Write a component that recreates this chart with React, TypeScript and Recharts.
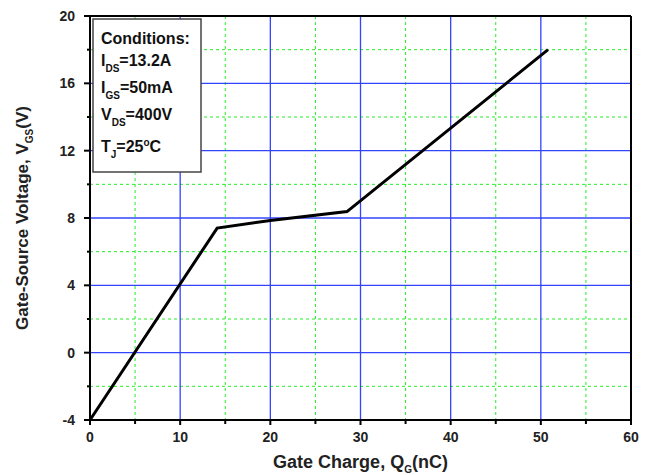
import React from 'react';
import { ComposedChart, Line, XAxis, YAxis, CartesianGrid, ReferenceLine, Customized } from 'recharts';

const charge = [0, 14.1, 20, 28.5, 50.8];
const voltage = [-4, 7.4, 7.85, 8.38, 18];
const xTicks = [0, 5, 10, 15, 20, 25, 30, 35, 40, 45, 50, 55, 60];
const yTicks = [-4, -2, 0, 2, 4, 6, 8, 10, 12, 14, 16, 18, 20];
const xMajorGrid = [10, 20, 30, 40, 50];
const xMinorGrid = [5, 15, 25, 35, 45, 55];
const yMajorGrid = [0, 4, 8, 12, 16];
const yMinorGrid = [-2, 2, 6, 10, 14, 18];
const conditions = [
  { main: 'I', sub: 'DS', rest: '=13.2A' },
  { main: 'I', sub: 'GS', rest: '=50mA' },
  { main: 'V', sub: 'DS', rest: '=400V' },
];

const data = charge.map((q, i) => ({ q, v: voltage[i] }));

const tickFont = "'Liberation Sans Narrow', 'Liberation Sans', Arial, sans-serif";
const titleFont = "'Liberation Sans', Arial, sans-serif";

const XTick = (props: any) => {
  const { x, y, payload } = props;
  const v = payload.value;
  const major = v % 10 === 0;
  return (
    <g>
      <line x1={x} x2={x} y1={y} y2={y + (major ? 5 : 4)} stroke="#000" strokeWidth={2} />
      {major && (
        <text x={x} y={y + 22} textAnchor="middle" fontFamily={tickFont} fontWeight="bold" fontSize={14} fill="#222">
          {v}
        </text>
      )}
    </g>
  );
};

const YTick = (props: any) => {
  const { x, y, payload } = props;
  const v = payload.value;
  const major = (v + 4) % 4 === 0;
  return (
    <g>
      <line x1={x} x2={x - (major ? 6 : 3)} y1={y} y2={y} stroke="#000" strokeWidth={2} />
      {major && (
        <text x={x - 15} y={y + 5} textAnchor="end" fontFamily={tickFont} fontWeight="bold" fontSize={14} fill="#222">
          {v}
        </text>
      )}
    </g>
  );
};

const XTitle = (props: any) => {
  const vb = props.viewBox;
  return (
    <text x={vb.x + vb.width / 2} y={vb.y + 48} textAnchor="middle" fontFamily={titleFont} fontWeight="bold" fontSize={18} fill="#222">
      Gate Charge, Q<tspan fontSize={10} dy={5}>G</tspan>
      <tspan dy={-5}>(nC)</tspan>
    </text>
  );
};

const YTitle = (props: any) => {
  const vb = props.viewBox;
  const cx = 28;
  const cy = vb.y + vb.height / 2;
  return (
    <text x={cx} y={cy} transform={`rotate(-90, ${cx}, ${cy})`} textAnchor="middle" fontFamily={titleFont} fontWeight="bold" fontSize={17} fill="#222">
      Gate-Source Voltage, V<tspan fontSize={10} dy={5}>GS</tspan>
      <tspan dy={-5}>(V)</tspan>
    </text>
  );
};

const ConditionsBox = () => {
  const x0 = 93;
  const tx = 101;
  const f = { fontFamily: titleFont, fontWeight: 'bold' as const, fontSize: 16, fill: '#111' };
  const baselines = [66, 93, 120];
  return (
    <g>
      <rect x={x0} y={19} width={108} height={153} fill="#fff" stroke="#444" strokeWidth={1.5} />
      <text x={tx} y={44} {...f}>Conditions:</text>
      {conditions.map((c, i) => (
        <text key={i} x={tx} y={baselines[i]} {...f}>
          {c.main}
          <tspan fontSize={10} dy={6}>{c.sub}</tspan>
          <tspan dy={-6}>{c.rest}</tspan>
        </text>
      ))}
      <text x={tx} y={152} {...f}>
        T<tspan fontSize={10} dy={6}>J</tspan>
        <tspan dy={-6}>=25</tspan>
        <tspan fontSize={10} dy={-6}>o</tspan>
        <tspan dy={6}>C</tspan>
      </text>
    </g>
  );
};

export default function App() {
  return (
    <div style={{ position: 'absolute', left: 0, top: 0, background: '#fff' }}>
      <ComposedChart width={648} height={475} data={data} margin={{ top: 16, right: 17, bottom: 0, left: 0 }}>
        <CartesianGrid horizontalValues={yMinorGrid} verticalValues={xMinorGrid} stroke="#22ee22" strokeDasharray="3 3" strokeWidth={1} />
        <CartesianGrid horizontalValues={yMajorGrid} verticalValues={xMajorGrid} stroke="#3344ff" strokeWidth={1.3} />
        <XAxis
          dataKey="q"
          type="number"
          domain={[0, 60]}
          ticks={xTicks}
          interval={0}
          height={55}
          tickSize={0}
          tickMargin={0}
          tickLine={false}
          tick={<XTick />}
          axisLine={{ stroke: '#000', strokeWidth: 2 }}
          label={<XTitle />}
        />
        <YAxis
          type="number"
          domain={[-4, 20]}
          ticks={yTicks}
          interval={0}
          width={90}
          tickSize={0}
          tickMargin={0}
          tickLine={false}
          tick={<YTick />}
          axisLine={{ stroke: '#000', strokeWidth: 2 }}
          label={<YTitle />}
        />
        <ReferenceLine y={20} stroke="#000" strokeWidth={2} />
        <ReferenceLine x={60} stroke="#000" strokeWidth={2} />
        <Line dataKey="v" type="linear" stroke="#000" strokeWidth={3} dot={false} isAnimationActive={false} />
        <Customized component={<ConditionsBox />} />
      </ComposedChart>
    </div>
  );
}
